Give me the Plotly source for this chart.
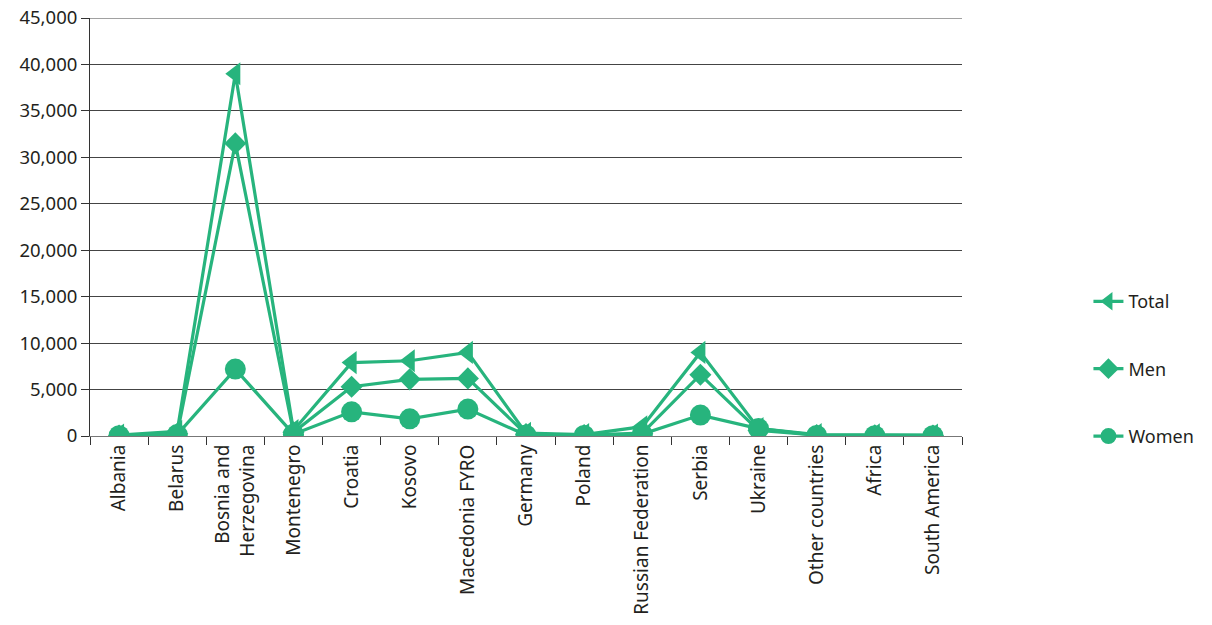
import plotly.graph_objects as go

categories = ["Albania", "Belarus", "Bosnia and<br>Herzegovina", "Montenegro", "Croatia",
              "Kosovo", "Macedonia FYRO", "Germany", "Poland", "Russian Federation",
              "Serbia", "Ukraine", "Other countries", "Africa", "South America"]
total = [100, 500, 39000, 600, 7900, 8100, 9000, 300, 150, 1000, 9000, 800, 150, 120, 100]
men = [50, 250, 31500, 400, 5300, 6100, 6200, 200, 100, 300, 6600, 600, 100, 80, 60]
women = [30, 150, 7200, 200, 2600, 1850, 2900, 100, 50, 200, 2250, 800, 60, 40, 40]
y_ticks = [0, 5000, 10000, 15000, 20000, 25000, 30000, 35000, 40000, 45000]

green = "#27B47D"
font = "Noto Sans, Open Sans, sans-serif"

fig = go.Figure()
series = [("Total", total, "triangle-left", 20), ("Men", men, "diamond", 17), ("Women", women, "circle", 21)]
for i, (name, vals, sym, sz) in enumerate(series):
    fig.add_trace(go.Scatter(
        x=categories, y=vals, name=name, mode="lines+markers",
        line=dict(color=green, width=3.2),
        marker=dict(symbol=sym, size=sz, color=green),
        legendgroup=name,
    ))

# top gridline (at the range end plotly omits it)
fig.add_shape(type="line", xref="paper", yref="y", x0=0, x1=1, y0=y_ticks[-1], y1=y_ticks[-1],
              line=dict(color="#444", width=1), layer="below")

fig.update_layout(
    width=1212, height=625,
    margin=dict(l=90, r=247, t=18, b=189),
    paper_bgcolor="white", plot_bgcolor="white",
    font=dict(family=font, size=18, color="#231f20"),
    showlegend=True,
    legend=dict(x=1.145, y=0.16, yanchor="middle", xanchor="left",
                tracegroupgap=41, font=dict(size=18)),
    xaxis=dict(
        type="category", range=[-0.5, 14.5], tickangle=-90, automargin=False,
        showgrid=False, showline=True, linecolor="#777", linewidth=1,
        ticks="outside", tickson="boundaries", ticklen=8, tickcolor="#333",
        tickfont=dict(size=19),
    ),
    yaxis=dict(
        range=[0, 45000], tickvals=y_ticks,
        tickformat=",", automargin=False,
        showgrid=True, gridcolor="#444", gridwidth=1,
        showline=True, linecolor="#333", linewidth=1,
        ticks="outside", ticklen=8, tickcolor="#333",
        tickfont=dict(size=18.5), zeroline=False,
    ),
)

fig.write_html("out.html", config={"displayModeBar": False},
               post_script="document.body.style.margin='0';")
